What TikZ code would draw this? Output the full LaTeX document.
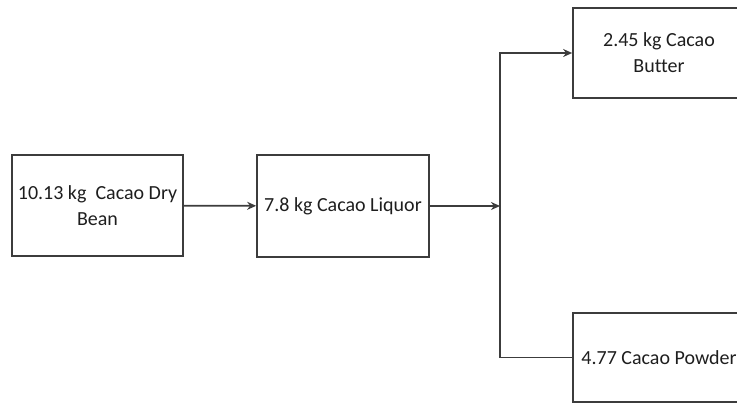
\documentclass[tikz,border=0pt]{standalone}
\usepackage{fontspec}
\setmainfont{Carlito}[Ligatures=NoCommon]
\usepackage{xcolor}
\usetikzlibrary{positioning,arrows.meta,calc}
\definecolor{edge}{HTML}{3C3C3C}
\definecolor{ink}{HTML}{1E1E1E}

\begin{document}
\begin{tikzpicture}[x=1pt,y=-1pt,
  font=\fontsize{20}{26}\selectfont,
  stage/.style={draw=edge,line width=1.7pt,text=ink,align=center,inner sep=0pt},
  flow/.style={draw=edge,line width=1.7pt},
  >={Stealth[length=9pt,width=8pt]}]
\useasboundingbox (0,0) rectangle (737,404);
% stages of the mass balance
\node[stage,minimum width=171pt,minimum height=101pt] (bean) at (97.5,205.5){10.13 kg\ \ Cacao Dry\\Bean};
\node[stage,minimum width=172pt,minimum height=102pt] (liquor) at (343,206){7.8 kg Cacao Liquor};
\node[stage,minimum width=172pt,minimum height=90pt] (butter) at (659,53){2.45 kg Cacao\\Butter};
\node[stage,minimum width=172pt,minimum height=89pt] (powder) at (659,357.5){4.77 Cacao Powder};
\coordinate (split) at (500,206);
% connectors
\draw[flow,->] (bean) -- (liquor);
\draw[flow,->] (liquor) -- (split);
\draw[flow,->] (split |- powder.west) -- (split |- butter.west) -- (butter.west);
\draw[flow] (split |- powder.west) -- (powder.west);
\end{tikzpicture}
\end{document}
